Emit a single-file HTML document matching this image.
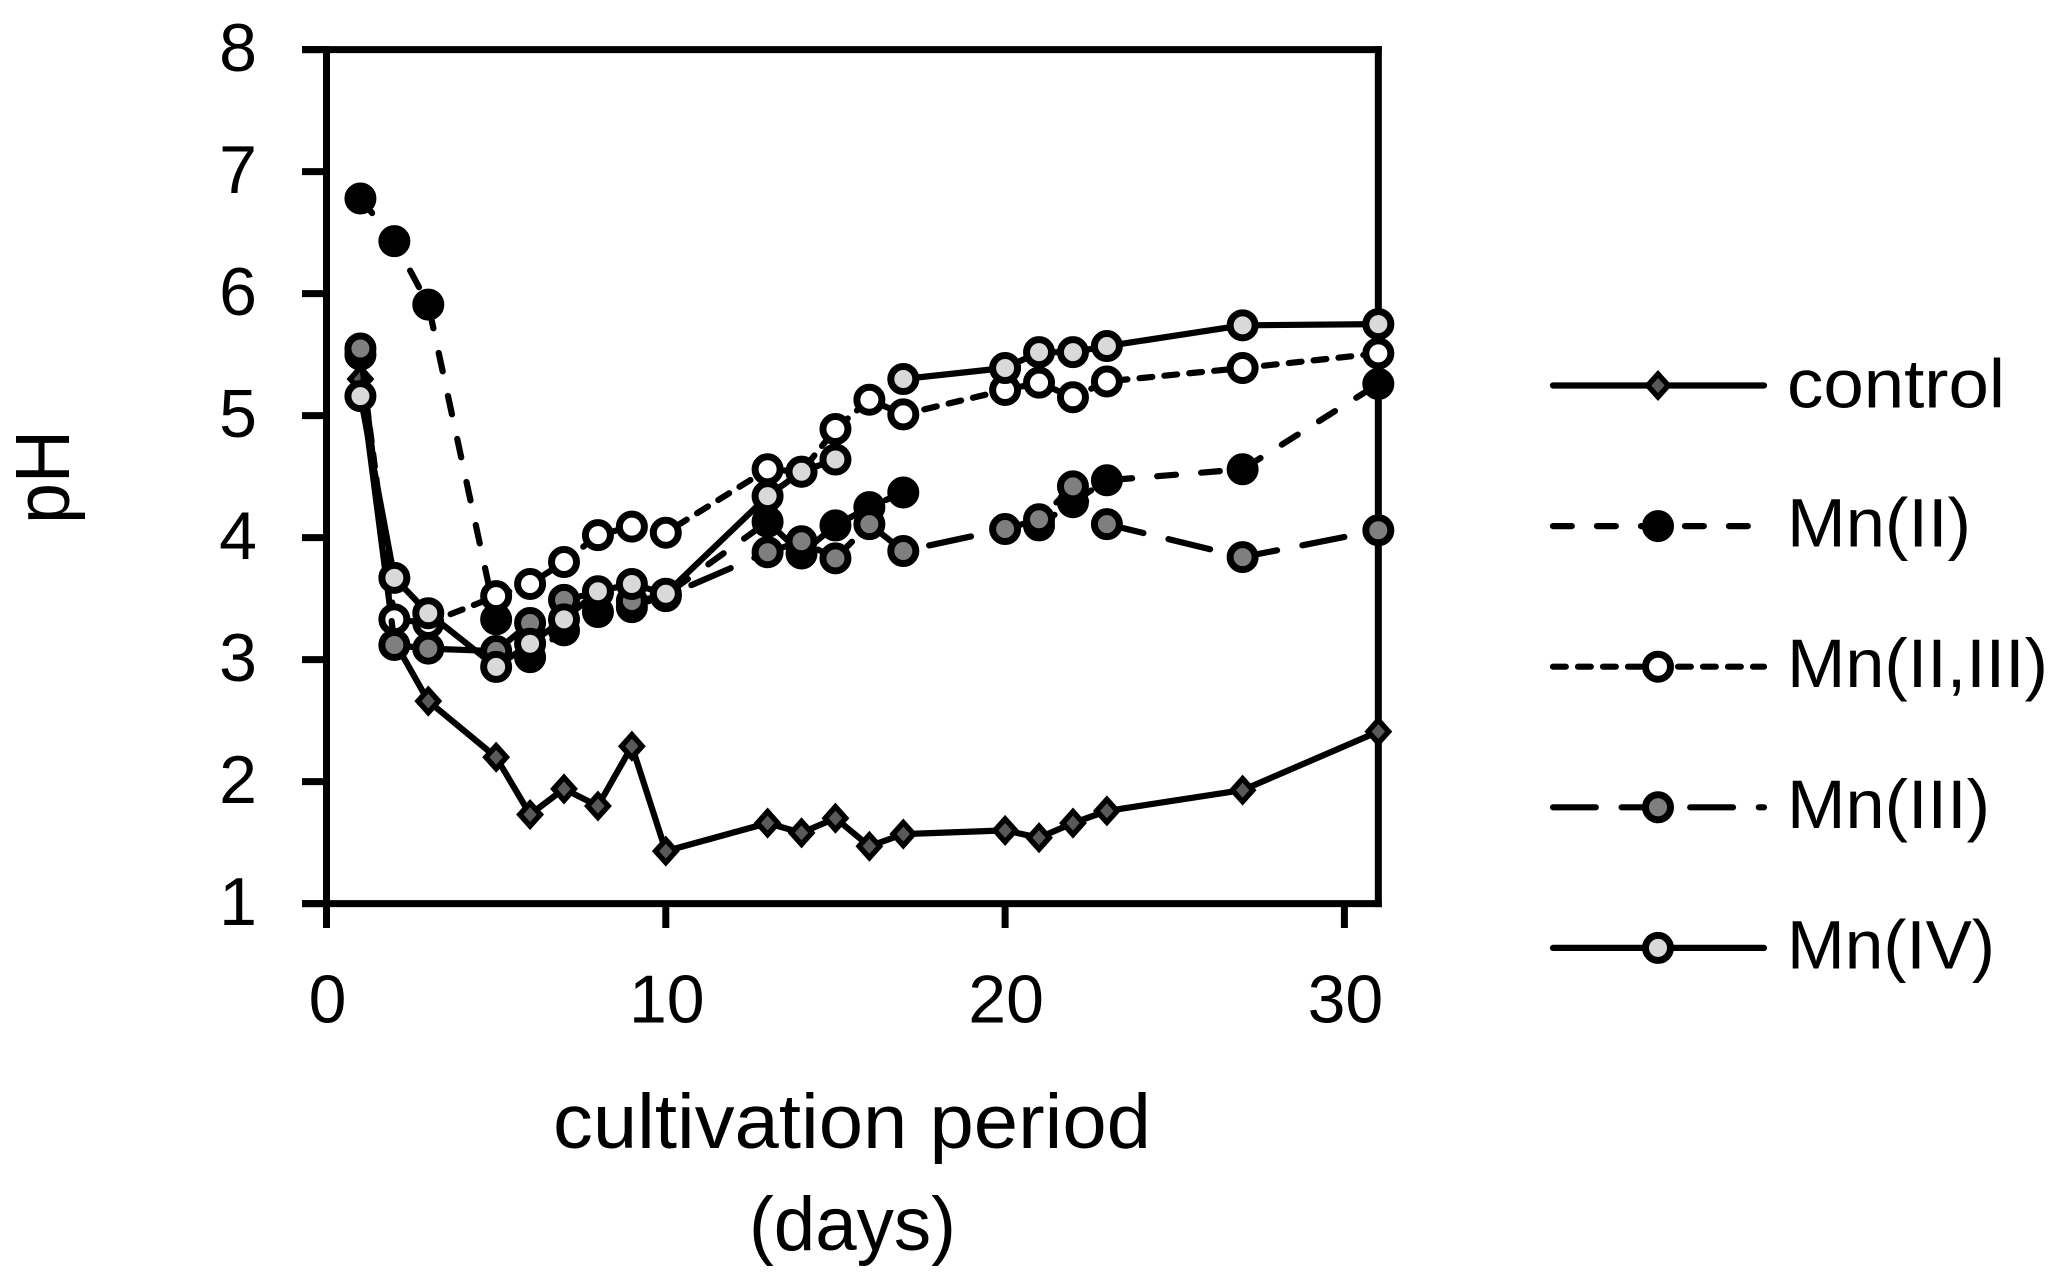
<!DOCTYPE html>
<html lang="en">
<head>
<meta charset="utf-8">
<title>pH over cultivation period</title>
<style>
html,body{margin:0;padding:0;background:#fff;width:2060px;height:1279px;overflow:hidden}
svg{display:block}
text{font-family:"Liberation Sans",sans-serif;fill:#000}
</style>
</head>
<body>
<svg id="chart" xmlns="http://www.w3.org/2000/svg" width="2060" height="1279" viewBox="0 0 2060 1279">
  <rect width="2060" height="1279" fill="#fff"/>
  <g id="axes"></g>
  <g id="series"></g>
  <g id="legend"></g>
  <text transform="translate(69,524) rotate(-90)" font-size="77" textLength="94" lengthAdjust="spacingAndGlyphs">pH</text>
  <text x="553" y="1148" font-size="77" textLength="598" lengthAdjust="spacingAndGlyphs">cultivation period</text>
  <text x="749" y="1250" font-size="76" textLength="207" lengthAdjust="spacingAndGlyphs">(days)</text>
</svg>
<script>
const days = [1,2,3,5,6,7,8,9,10,13,14,15,16,17,20,21,22,23,27,31];
const controlValues = [5.30,3.15,2.66,2.20,1.73,1.94,1.80,2.29,1.43,1.66,1.58,1.70,1.47,1.57,1.60,1.54,1.66,1.76,1.93,2.41];
const mn2Values = [6.78,6.43,5.91,3.33,3.02,3.24,3.39,3.43,3.53,4.13,3.87,4.10,4.25,4.37,null,4.10,4.29,4.47,4.56,5.26];
const mn23Values = [5.50,3.33,3.30,3.52,3.62,3.80,4.02,4.09,4.04,4.56,4.54,4.89,5.13,5.01,5.21,5.27,5.15,5.28,5.39,5.51];
const mn3Values = [5.55,3.12,3.09,3.07,3.30,3.49,3.55,3.48,3.52,3.88,3.97,3.83,4.11,3.89,4.07,4.15,4.42,4.11,3.84,4.06];
const mn4Values = [5.16,3.67,3.38,2.94,3.13,3.33,3.56,3.62,3.54,4.34,4.54,4.64,null,5.30,5.39,5.52,5.52,5.57,5.74,5.75];
const xTickLabels = [0,10,20,30];
const yTickLabels = [1,2,3,4,5,6,7,8];
const seriesNames = ['control','Mn(II)','Mn(II,III)','Mn(III)','Mn(IV)'];

const NS = 'http://www.w3.org/2000/svg';
const xScale = d => 326.5 + 33.93 * d;
const yScale = v => 903.6 - 122 * (v - 1);
const xMax = 31, yMax = 8;

function make(parent, tag, attrs) {
  const el = document.createElementNS(NS, tag);
  for (const k in attrs) el.setAttribute(k, attrs[k]);
  parent.appendChild(el);
  return el;
}

const styles = [
  {values: controlValues, dash: '', fill: '#595959', kind: 'diamond', slug: 'control'},
  {values: mn2Values, dash: '18.8 25.2', fill: '#000000', kind: 'circle', slug: 'mn-ii'},
  {values: mn23Values, dash: '12.8 12.2', fill: '#ffffff', kind: 'circle', slug: 'mn-ii-iii'},
  {values: mn3Values, dash: '42.8 25.8', fill: '#7f7f7f', kind: 'circle', slug: 'mn-iii'},
  {values: mn4Values, dash: '', fill: '#d9d9d9', kind: 'circle', slug: 'mn-iv'}
];

function drawMarker(parent, cx, cy, st) {
  let m;
  if (st.kind === 'diamond') {
    m = make(parent, 'polygon', {
      points: `${cx},${cy-11.5} ${cx+10.3},${cy} ${cx},${cy+11.5} ${cx-10.3},${cy}`,
      fill: st.fill, stroke: '#000', 'stroke-width': 5.4, 'stroke-linejoin': 'miter'
    });
  } else {
    m = make(parent, 'circle', {cx: cx, cy: cy, r: 12.5, fill: st.fill, stroke: '#000', 'stroke-width': 7});
  }
  return m;
}

/* axes */
const axes = document.getElementById('axes');
const frame = [
  ['axis-left', xScale(0), yScale(yMax) - 3.5, xScale(0), 928],
  ['axis-right', xScale(xMax), yScale(yMax) - 3.5, xScale(xMax), yScale(1) + 3.5],
  ['axis-top', 302, yScale(yMax), xScale(xMax) + 3.5, yScale(yMax)],
  ['axis-bottom', 302, yScale(1), xScale(xMax) + 3.5, yScale(1)]
];
frame.forEach(f => {
  const l = make(axes, 'line', {x1: f[1], y1: f[2], x2: f[3], y2: f[4], stroke: '#000', 'stroke-width': 7});
  
  
});
yTickLabels.forEach(v => {
  const t = make(axes, 'line', {x1: 302, y1: yScale(v), x2: xScale(0), y2: yScale(v), stroke: '#000', 'stroke-width': 7});
  
  
  const lab = make(axes, 'text', {x: 238, y: yScale(v) + 21.5, 'font-size': 68, 'text-anchor': 'middle'});
  
  
  lab.textContent = v;
});
xTickLabels.forEach(v => {
  const t = make(axes, 'line', {x1: xScale(v), y1: yScale(1), x2: xScale(v), y2: 928, stroke: '#000', 'stroke-width': 7});
  
  
  const lab = make(axes, 'text', {x: xScale(v) + 1, y: 1022.5, 'font-size': 68, 'text-anchor': 'middle'});
  
  
  lab.textContent = v;
});

/* series */
const seriesRoot = document.getElementById('series');
styles.forEach(st => {
  const g = make(seriesRoot, 'g', {});
  
  
  let d = '', pen = false;
  st.values.forEach((v, i) => {
    if (v === null) { pen = false; return; }
    d += (pen ? 'L' : 'M') + xScale(days[i]).toFixed(1) + ' ' + yScale(v).toFixed(1);
    pen = true;
  });
  const attrs = {d: d, fill: 'none', stroke: '#000', 'stroke-width': 6.2, 'stroke-linecap': 'round', 'stroke-linejoin': 'round'};
  if (st.dash) attrs['stroke-dasharray'] = st.dash;
  const path = make(g, 'path', attrs);
  
  
  st.values.forEach((v, i) => {
    if (v === null) return;
    const m = drawMarker(g, xScale(days[i]), yScale(v), st);
    
    
  });
});

/* legend */
const legend = document.getElementById('legend');
const legendTextWidths = [218, 184, 261, 203, 208];
seriesNames.forEach((name, i) => {
  const st = styles[i];
  const y = 385.5 + 140.6 * i;
  const g = make(legend, 'g', {});
  
  
  const attrs = {x1: 1553, y1: y, x2: 1764, y2: y, stroke: '#000', 'stroke-width': 6.2, 'stroke-linecap': 'round'};
  if (st.dash) attrs['stroke-dasharray'] = st.dash;
  const l = make(g, 'line', attrs);
  
  
  const m = drawMarker(g, 1658, y, st);
  
  
  const t = make(g, 'text', {x: i === 0 ? 1787 : 1787, y: y + (i === 0 ? 22 : 20.5), 'font-size': 69, textLength: legendTextWidths[i], lengthAdjust: 'spacingAndGlyphs'});
  
  
  t.textContent = name;
});
</script>
</body>
</html>
